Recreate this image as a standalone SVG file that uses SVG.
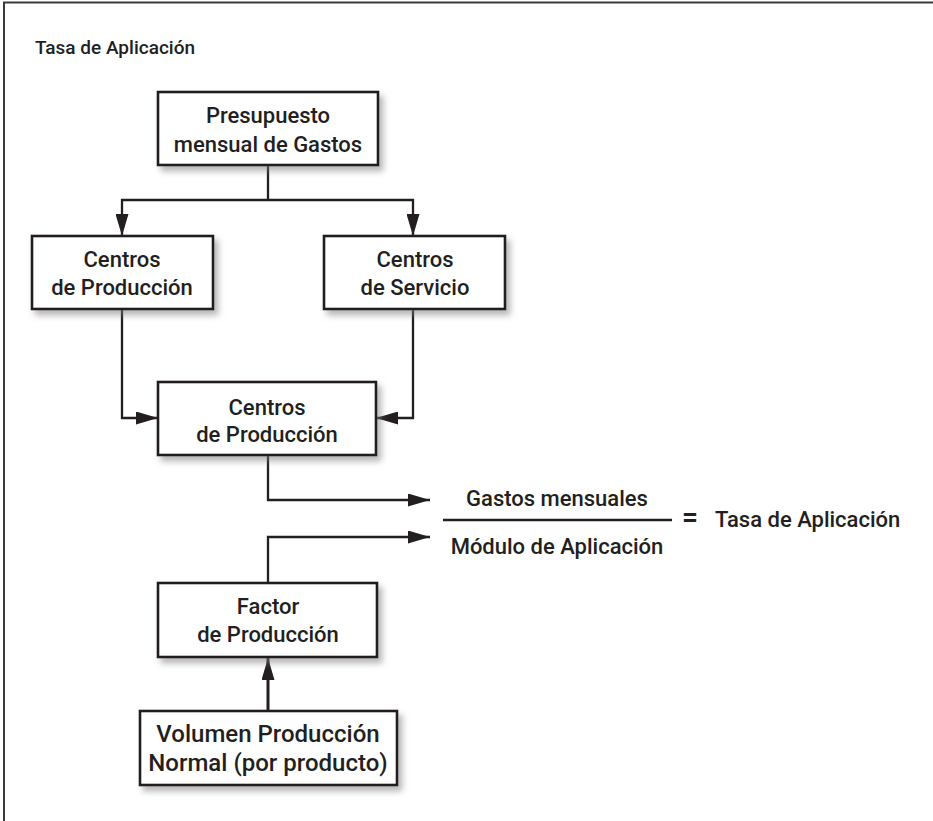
<svg xmlns="http://www.w3.org/2000/svg" width="933" height="821" viewBox="0 0 933 821">
  <style>
    .box { fill: #ffffff; stroke: #231f20; stroke-width: 2.6; filter: url(#shadow); }
    .lbl { font-family: Roboto, "Liberation Sans", Arial, sans-serif; font-weight: 500; font-size: 22px; fill: #231f20; text-anchor: middle; }
    .lbl-lg { font-size: 24px; }
    .wire { fill: none; stroke: #231f20; stroke-width: 2.3; }
    .frame { fill: none; stroke: #3a3a3a; stroke-width: 2; }
  </style>
  <defs>
    <filter id="shadow" x="-10%" y="-10%" width="130%" height="140%">
      <feDropShadow dx="4" dy="5" stdDeviation="3" flood-color="#7a7a7a" flood-opacity="0.55"/>
    </filter>
    <marker id="arrow" viewBox="0 0 22 13" refX="22" refY="6.5" markerWidth="22" markerHeight="13" markerUnits="userSpaceOnUse" orient="auto">
      <path d="M0,0 L22,6.5 L0,13 Z" fill="#231f20"/>
    </marker>
  </defs>

  <!-- outer frame (top and left edges) -->
  <path class="frame" d="M4,821 V2.5 H933"/>

  <!-- title -->
  <text x="35" y="54" style="font-family: Roboto, 'Liberation Sans', Arial, sans-serif; font-weight: 500; font-size: 19px; fill: #231f20;">Tasa de Aplicación</text>

  <!-- connectors -->
  <g id="connectors">
    <path class="wire" d="M268,165 V200"/>
    <path class="wire" d="M268,200 H122 V236" marker-end="url(#arrow)"/>
    <path class="wire" d="M268,200 H413 V236" marker-end="url(#arrow)"/>
    <path class="wire" d="M122,309 V418 H158" marker-end="url(#arrow)"/>
    <path class="wire" d="M413,309 V418 H376" marker-end="url(#arrow)"/>
    <path class="wire" d="M268,455 V500 H430" marker-end="url(#arrow)"/>
    <path class="wire" d="M268,583 V537 H430" marker-end="url(#arrow)"/>
    <path class="wire" style="stroke-width:3" d="M268,711 V658" marker-end="url(#arrow)"/>
  </g>

  <!-- nodes -->
  <g id="presupuesto">
    <rect class="box" x="158" y="92" width="220" height="73"/>
    <text class="lbl" x="268" y="123">Presupuesto</text>
    <text class="lbl" x="268" y="152">mensual de Gastos</text>
  </g>
  <g id="centros-produccion-1">
    <rect class="box" x="32" y="236" width="181" height="73"/>
    <text class="lbl" x="122" y="267">Centros</text>
    <text class="lbl" x="122" y="295">de Producción</text>
  </g>
  <g id="centros-servicio">
    <rect class="box" x="324" y="236" width="181" height="73"/>
    <text class="lbl" x="415" y="267">Centros</text>
    <text class="lbl" x="415" y="295">de Servicio</text>
  </g>
  <g id="centros-produccion-2">
    <rect class="box" x="158" y="382" width="218" height="73"/>
    <text class="lbl" x="267" y="415">Centros</text>
    <text class="lbl" x="267" y="442">de Producción</text>
  </g>
  <g id="factor-produccion">
    <rect class="box" x="158" y="583" width="219" height="74"/>
    <text class="lbl" x="268" y="614">Factor</text>
    <text class="lbl" x="268" y="642">de Producción</text>
  </g>
  <g id="volumen-produccion">
    <rect class="box" x="140" y="711" width="257" height="74"/>
    <text class="lbl lbl-lg" x="268" y="742">Volumen Producción</text>
    <text class="lbl lbl-lg" x="268" y="771">Normal (por producto)</text>
  </g>

  <!-- rate formula -->
  <g id="formula">
    <text class="lbl" x="557" y="506">Gastos mensuales</text>
    <line x1="443" y1="520" x2="672" y2="520" stroke="#231f20" stroke-width="2.3"/>
    <text class="lbl" x="557" y="554">Módulo de Aplicación</text>
    <text class="lbl" x="690" y="526" style="font-size: 28px; font-weight: 700;">=</text>
    <text class="lbl" x="715" y="527" style="text-anchor: start;">Tasa de Aplicación</text>
  </g>
</svg>
